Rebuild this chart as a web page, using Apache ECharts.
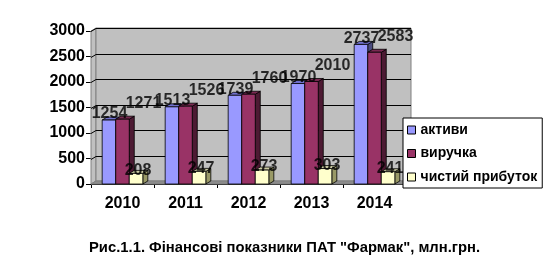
<!DOCTYPE html>
<html>
<head>
<meta charset="utf-8">
<script src="https://cdn.jsdelivr.net/npm/echarts@6/dist/echarts.min.js"></script>
<style>
html,body{margin:0;padding:0;background:#fff;}
#chart{width:550px;height:265px;}
</style>
</head>
<body>
<div id="chart"></div>
<script>
// ---- data ----
const years = ['2010', '2011', '2012', '2013', '2014'];
const seriesNames = ['активи', 'виручка', 'чистий прибуток'];
const aktyvy = [1254, 1513, 1739, 1970, 2737];
const vyruchka = [1271, 1526, 1760, 2010, 2583];
const prybutok = [208, 247, 273, 303, 241];
const yTicks = [0, 500, 1000, 1500, 2000, 2500, 3000];
const chartTitle = 'Рис.1.1. Фінансові показники ПАТ "Фармак", млн.грн.';

// ---- styles ----
const FONT = '"Liberation Sans", Arial, sans-serif';
const DX = 5, DY = -3;
const faceColors = [
  {front: '#9999FF', top: '#6F6FCC', side: '#4C4C80'},
  {front: '#993366', top: '#7A2952', side: '#4D1A33'},
  {front: '#FFFFCC', top: '#CCCCA3', side: '#999966'}
];
const labelOffsets = [[-13, -6], [21, -16], [15.5, -3]];

const chart = echarts.init(document.getElementById('chart'), null, {renderer: 'canvas'});

function backdrop(params, api) {
  const cs = params.coordSys;
  const x0 = cs.x, y0 = cs.y, w = cs.width, h = cs.height;
  const children = [];
  children.push({type: 'polygon', shape: {points: [[x0, y0 + h], [x0, y0], [x0 + DX, y0 + DY], [x0 + DX, y0 + h + DY]]},
    style: {fill: '#C0C0C0', stroke: '#808080', lineWidth: 1}});
  children.push({type: 'rect', shape: {x: x0 + DX, y: y0 + DY, width: w, height: h},
    style: {fill: '#C0C0C0', stroke: '#808080', lineWidth: 1}});
  children.push({type: 'polygon', shape: {points: [[x0, y0 + h], [x0 + w, y0 + h], [x0 + w + DX, y0 + h + DY], [x0 + DX, y0 + h + DY]]},
    style: {fill: '#8C8C8C', stroke: '#808080', lineWidth: 1}});
  yTicks.forEach(t => {
    const y = Math.round(api.coord([0, t])[1]) + 0.5;
    if (t > 0) {
      children.push({type: 'line', shape: {x1: x0 + DX, y1: y + DY, x2: x0 + DX + w, y2: y + DY}, style: {stroke: '#000', lineWidth: 1}});
      children.push({type: 'line', shape: {x1: x0, y1: y, x2: x0 + DX, y2: y + DY}, style: {stroke: '#000', lineWidth: 1}});
    }
  });
  return {type: 'group', children};
}

function makeBarRender(sIdx) {
  return function (params, api) {
    const ci = api.value(0);
    const top = api.coord([ci, api.value(1)]);
    const base = api.coord([ci, 0]);
    const band = api.size([1, 0])[0];
    const bw = band * 0.215;
    const left = top[0] - 1.5 * bw + sIdx * bw;
    const c = faceColors[sIdx];
    const t = top[1], b = base[1];
    return {type: 'group', children: [
      {type: 'polygon', shape: {points: [[left + bw, t], [left + bw, b], [left + bw + DX, b + DY], [left + bw + DX, t + DY]]},
        style: {fill: c.side, stroke: '#000', lineWidth: 0.8}},
      {type: 'polygon', shape: {points: [[left, t], [left + bw, t], [left + bw + DX, t + DY], [left + DX, t + DY]]},
        style: {fill: c.top, stroke: '#000', lineWidth: 0.8}},
      {type: 'rect', shape: {x: left, y: t, width: bw, height: b - t},
        style: {fill: c.front, stroke: '#000', lineWidth: 0.8}}
    ]};
  };
}

const valueSets = [aktyvy, vyruchka, prybutok];

const series = [{
  type: 'custom', name: 'bg', silent: true, z: 1,
  renderItem: backdrop, data: [[0, 0]], encode: {x: 0, y: 1}
}];
valueSets.forEach((vals, i) => {
  series.push({
    type: 'custom', name: seriesNames[i], z: 2 + i,
    itemStyle: {color: faceColors[i].front, borderColor: '#000', borderWidth: 1},
    renderItem: makeBarRender(i),
    data: vals.map((v, k) => [k, v]),
    encode: {x: 0, y: 1}
  });
});
valueSets.forEach((vals, i) => {
  series.push({
    type: 'scatter', name: 'lbl' + i, z: 20, silent: true,
    symbolSize: 1, itemStyle: {color: 'rgba(0,0,0,0)'},
    data: vals,
    label: {show: true, position: 'inside', offset: labelOffsets[i],
      formatter: p => String(p.value), color: '#000', fontSize: 16, fontWeight: 'bold', fontFamily: FONT}
  });
});

chart.setOption({
  animation: false,
  backgroundColor: '#fff',
  title: {text: chartTitle, left: 84, top: 235,
    textStyle: {fontSize: 14.8, fontWeight: 'bold', color: '#000', fontFamily: FONT}},
  grid: {left: 91, top: 31, width: 315, height: 153, containLabel: false},
  xAxis: {type: 'category', data: years, boundaryGap: true,
    axisLine: {show: true, lineStyle: {color: '#000', width: 1}},
    axisTick: {show: true, interval: 0, length: 4, lineStyle: {color: '#000'}},
    axisLabel: {margin: 12, color: '#000', fontSize: 16, fontWeight: 'bold', fontFamily: FONT},
    splitLine: {show: false}},
  yAxis: {type: 'value', min: 0, max: 3000, interval: 500,
    axisLine: {show: true, lineStyle: {color: '#000', width: 1}},
    axisTick: {show: true, length: 5, lineStyle: {color: '#000'}},
    axisLabel: {margin: 6, color: '#000', fontSize: 16, fontWeight: 'bold', fontFamily: FONT,
      formatter: v => String(v)},
    splitLine: {show: false}},
  legend: {data: seriesNames, orient: 'vertical', left: 403, top: 118,
    padding: [4, 5, 3, 4], itemGap: 7.5, itemWidth: 8, itemHeight: 8, icon: 'rect',
    backgroundColor: '#fff', borderColor: '#000', borderWidth: 1,
    itemStyle: {borderColor: '#000', borderWidth: 1},
    textStyle: {color: '#000', fontSize: 14, fontWeight: 'bold', fontFamily: FONT, lineHeight: 16}},
  series
});
</script>
</body>
</html>
